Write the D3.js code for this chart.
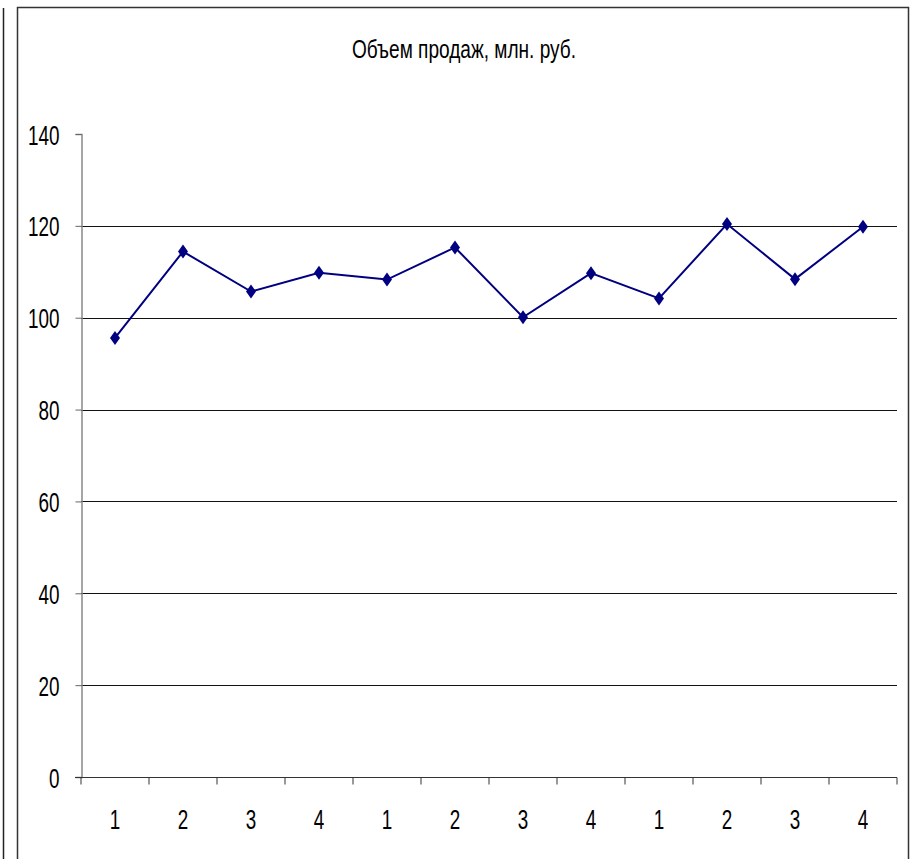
<!DOCTYPE html>
<html lang="ru">
<head>
<meta charset="utf-8">
<title>Объем продаж</title>
<script src="https://cdn.jsdelivr.net/npm/d3@7"></script>
<style>
  body { margin: 0; background: #fff; }
  svg { display: block; }
  text { font-family: "Liberation Sans", Arial, sans-serif; fill: #000; }
</style>
</head>
<body>
<svg id="chart" width="911" height="859"></svg>
<script>
// data
var quarters = ["1", "2", "3", "4", "1", "2", "3", "4", "1", "2", "3", "4"];
var sales = [95.6, 114.4, 105.7, 109.8, 108.3, 115.3, 100.1, 109.7, 104.2, 120.4, 108.4, 119.8];
var yTicks = [0, 20, 40, 60, 80, 100, 120, 140];
var title = "Объем продаж, млн. руб.";

var svg = d3.select("#chart");
var digitW = 10.5; // narrow font look
var fs = 27;

// frame lines
svg.append("line").attr("x1", 3.5).attr("x2", 3.5).attr("y1", 8).attr("y2", 859)
  .attr("stroke", "#222").attr("stroke-width", 1.5);
svg.append("path").attr("d", "M17.5,859V7.5H908.5V859")
  .attr("fill", "none").attr("stroke", "#333").attr("stroke-width", 1.5);

var margin = {left: 81, right: 14, top: 134, bottom: 82};
var W = 911, H = 859;

var x = d3.scaleBand()
    .domain(d3.range(quarters.length))
    .range([margin.left, W - margin.right]);

var y = d3.scaleLinear()
    .domain([0, 140])
    .range([H - margin.bottom, margin.top]);

// gridlines
svg.append("g").selectAll("line")
  .data(yTicks.filter(function(d) { return d > 0 && d < 140; }))
  .join("line")
    .attr("x1", margin.left).attr("x2", W - margin.right)
    .attr("y1", function(d) { return Math.round(y(d)) + 0.5; })
    .attr("y2", function(d) { return Math.round(y(d)) + 0.5; })
    .attr("stroke", "#111").attr("stroke-width", 1);

// y axis
var yAxis = svg.append("g")
    .attr("transform", "translate(" + (margin.left + 0.5) + ",0)")
    .call(d3.axisLeft(y).tickValues(yTicks).tickSize(6).tickPadding(16).tickFormat(d3.format("d")));
yAxis.select(".domain").attr("stroke", "#888").attr("stroke-width", 1.5);
yAxis.selectAll(".tick line").attr("stroke", "#666");
yAxis.selectAll("text")
    .attr("font-size", fs)
    .attr("dy", 10)
    .attr("textLength", function(d) { return String(d).length * digitW; })
    .attr("lengthAdjust", "spacingAndGlyphs")
    .style("font-family", null);

// x axis
var xAxis = svg.append("g")
    .attr("transform", "translate(0," + (Math.round(y(0)) + 0.5) + ")");
xAxis.append("line")
    .attr("x1", margin.left - 6).attr("x2", W - margin.right)
    .attr("stroke", "#333").attr("stroke-width", 1.2);
xAxis.selectAll("line.tk")
  .data(d3.range(quarters.length + 1))
  .join("line").attr("class", "tk")
    .attr("x1", function(i) { return i < quarters.length ? x(i) : x(quarters.length - 1) + x.bandwidth(); })
    .attr("x2", function(i) { return i < quarters.length ? x(i) : x(quarters.length - 1) + x.bandwidth(); })
    .attr("y1", 0).attr("y2", 7)
    .attr("stroke", "#333");
xAxis.selectAll("text")
  .data(quarters)
  .join("text")
    .attr("x", function(d, i) { return x(i) + x.bandwidth() / 2; })
    .attr("y", 51)
    .attr("text-anchor", "middle")
    .attr("font-size", fs)
    .attr("textLength", function(d) { return d.length * digitW; })
    .attr("lengthAdjust", "spacingAndGlyphs")
    .text(function(d) { return d; });

// series line
var line = d3.line()
    .x(function(d, i) { return x(i) + x.bandwidth() / 2; })
    .y(function(d) { return y(d); });

svg.append("path")
    .datum(sales)
    .attr("d", line)
    .attr("fill", "none")
    .attr("stroke", "#000080")
    .attr("stroke-width", 2);

// diamond markers
svg.append("g").selectAll("path")
  .data(sales)
  .join("path")
    .attr("transform", function(d, i) { return "translate(" + (x(i) + x.bandwidth() / 2) + "," + y(d) + ")"; })
    .attr("d", "M0,-7L5,0L0,7L-5,0Z")
    .attr("fill", "#000080");

// title
svg.append("text")
    .attr("x", 464).attr("y", 58)
    .attr("text-anchor", "middle")
    .attr("font-size", 25)
    .attr("textLength", 224)
    .attr("lengthAdjust", "spacingAndGlyphs")
    .text(title);
</script>
</body>
</html>
